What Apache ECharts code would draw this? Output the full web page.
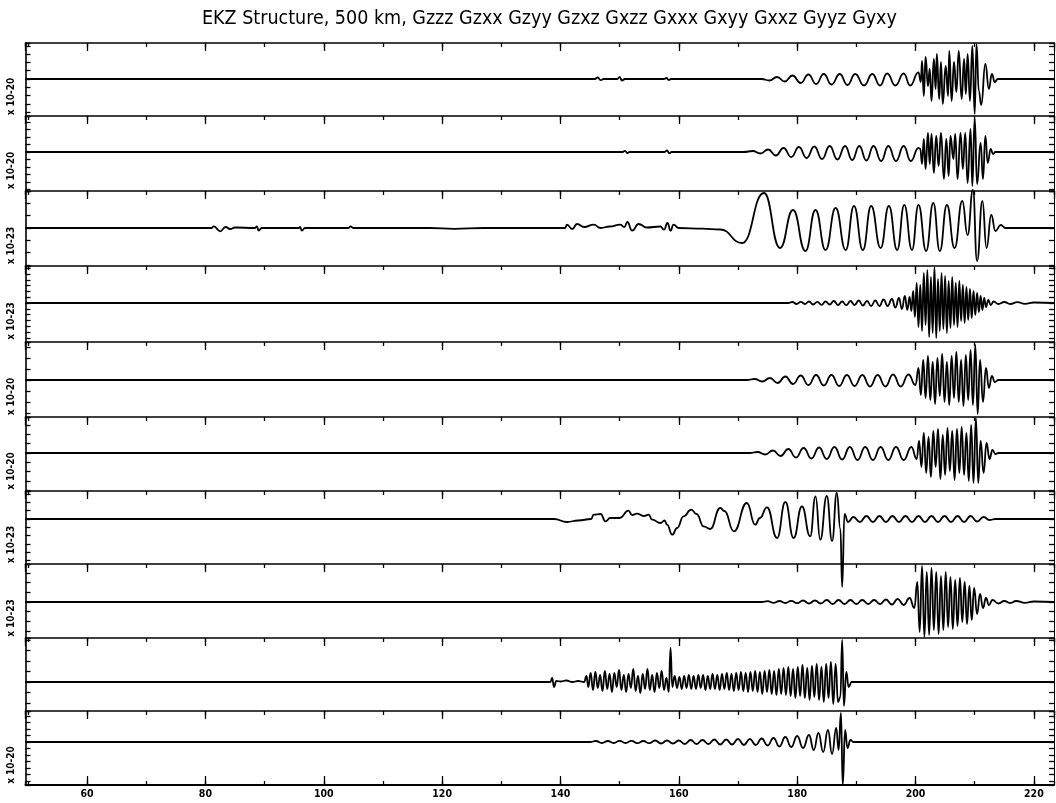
<!DOCTYPE html>
<html><head><meta charset="utf-8">
<script src="https://cdn.jsdelivr.net/npm/echarts@6/dist/echarts.min.js"></script>
<style>html,body{margin:0;padding:0;background:#fff}#c{width:1056px;height:803px}</style>
</head><body><div id="c"></div>
<script>
const chartTitle = 'EKZ Structure, 500 km, Gzzz Gzxx Gzyy Gzxz Gxzz Gxxx Gxyy Gxxz Gyyz Gyxy';
const components = ['Gzzz','Gzxx','Gzyy','Gzxz','Gxzz','Gxxx','Gxyy','Gxxz','Gyyz','Gyxy'];
const unitLabels = ['x 10-20','x 10-20','x 10-23','x 10-23','x 10-20','x 10-20','x 10-23','x 10-23','','x 10-20'];
const xRange = [49.6, 223.4];
const majorStep = 20, minorStep = 10;

// traces: [time, amplitude]
const traceGzzz = [[49.6,0],[145.8,0],[146.3,1.5],[146.8,-1.2],[147.3,0],[149.6,0],[150.0,1.8],[150.4,-1.5],[150.9,0],[157.5,0],[157.9,1],[158.3,-1],[158.7,0],[174.0,0],[175.3,-1.5],[176.6,2],[177.9,-2.5],[179.2,3.5],[180.6,-4],[181.9,4.5],[183.2,-5],[184.5,5],[185.8,-5.5],[187.2,5],[188.5,-6],[189.8,5],[191.3,-6.5],[192.7,5],[194.0,-6.5],[195.2,5.5],[196.6,-6.5],[198.0,5.5],[199.1,-6.5],[200.5,6.7],[200.9,-3],[201.1,18],[201.4,-17],[201.7,22],[202.1,-7],[202.4,10],[202.7,-22],[203.1,20],[203.4,-10],[203.6,25],[204.0,-20],[204.3,17],[204.6,-25],[205.1,13],[205.5,-17],[205.7,28],[206.1,-22],[206.5,17],[206.9,-13],[207.3,28],[207.8,-20],[208.2,20],[208.5,-15],[208.8,25],[209.2,-22],[209.6,33],[210.0,-35],[210.3,35],[210.7,-12],[211.1,-26],[211.8,15],[212.4,-10],[212.9,5],[213.4,-3],[213.9,0],[223.4,0]];
const traceGzxx = [[49.6,0],[150.5,0],[150.9,1.2],[151.3,-1],[151.7,0],[157.6,0],[158.0,1.5],[158.4,-1.2],[158.8,0],[171.0,0],[172.5,1],[173.8,-1.5],[175.1,2.5],[176.4,-3.5],[177.7,4],[179.0,-5],[180.3,5],[181.6,-6],[182.9,5.5],[184.2,-7],[185.5,6],[186.8,-7.5],[188.1,6],[189.3,-8],[190.5,6],[191.7,-8.5],[192.9,6],[194.2,-9],[195.4,6],[196.7,-9],[198.0,6],[199.2,-9],[200.5,4],[200.8,3],[201.1,-12],[201.4,13],[201.7,-17],[202.1,19],[202.4,-12],[202.7,18],[203.1,-21],[203.5,16],[203.9,-14],[204.3,19],[204.8,-27],[205.2,13],[205.6,-24],[205.9,16],[206.4,-7],[206.7,18],[207.1,-27],[207.6,19],[208.0,-17],[208.4,19],[208.8,-31],[209.3,23],[209.6,-34],[210.0,34],[210.4,-32],[211.0,9],[211.4,-27],[211.8,16],[212.2,-11],[212.7,3],[213.1,-2],[213.5,0],[223.4,0]];
const traceGzyy = [[49.6,0],[81.0,0],[81.4,1.7],[82.5,-3.3],[83.4,1],[84.2,-1],[85,0.5],[88.4,0],[88.7,1.7],[89.0,-2.7],[89.5,0],[95.8,0],[96.0,1],[96.3,-2.7],[96.8,0],[104.2,0],[104.5,1.7],[105,0],[118,0],[122,-0.8],[127,0],[140.8,0],[141.1,3.3],[142.0,-1],[142.8,4],[144,1],[145.6,3.3],[146.8,0],[148.3,1.5],[150.1,3.3],[150.8,1],[151.3,6],[152.1,-2.7],[153.2,4],[154.6,0.5],[156.9,1.5],[157.5,-1.7],[158.1,5],[158.6,-2.7],[159.1,3.3],[160,0],[164,-0.7],[167.0,-1.5],[170.7,-15],[174.4,35],[177.1,-20],[179.3,18],[181.4,-23],[183.1,18],[184.8,-22],[186.5,20],[188.2,-22],[189.6,22],[191.1,-22],[192.5,22],[194.1,-20],[195.5,22],[196.9,-22],[198.1,23],[199.4,-22],[200.5,23],[201.8,-23],[203.0,25],[204.1,-23],[205.3,23],[206.6,-20],[207.9,27],[208.8,-7],[209.7,38],[210.4,-33],[211.3,27],[212.0,-20],[212.8,13],[213.5,-3],[214.4,3],[215.2,0],[223.4,0]];
const traceGzxz = [[49.6,0],[178.5,0],[179.2,1],[179.9,-1],[180.6,1.2],[181.3,-1],[182.0,1.5],[182.7,-1.5],[183.4,1.2],[184.1,-1.8],[184.8,1.5],[185.5,-1.5],[186.2,2],[186.9,-2],[187.6,1.5],[188.3,-2.2],[189.0,2],[189.7,-2],[190.4,2.5],[191.1,-2.5],[191.8,2],[192.5,-3],[193.2,2.5],[193.9,-3],[194.6,3.5],[195.3,-3],[196.0,4],[196.6,-4.5],[197.2,5],[197.7,-6],[198.2,7],[198.6,-7],[199.0,6],[199.3,-8],[199.6,12],[199.9,-14],[200.2,20],[200.5,-24],[200.8,18],[201.1,-28],[201.4,30],[201.7,-22],[202.0,33],[202.3,-34],[202.6,26],[202.9,-30],[203.2,36],[203.5,-35],[203.8,24],[204.1,-28],[204.4,30],[204.7,-26],[205.0,27],[205.3,-30],[205.6,22],[205.9,-25],[206.2,26],[206.5,-22],[206.8,20],[207.1,-24],[207.4,22],[207.7,-18],[208.0,18],[208.3,-20],[208.6,16],[208.9,-17],[209.2,14],[209.5,-15],[209.8,12],[210.1,-12],[210.4,10],[210.7,-9],[211.0,7],[211.3,-7],[211.6,5],[211.9,-4],[212.3,3],[212.7,-2],[213.2,1.5],[214.0,-1],[215.0,1],[216.0,-1],[217.2,0.8],[218.5,-0.8],[220,0.5],[223.4,0]];
const traceGxzz = [[49.6,0],[171.5,0],[172.8,1],[174.1,-1.5],[175.4,2],[176.7,-3],[178.0,3.5],[179.3,-4],[180.6,4.5],[181.9,-5],[183.2,5],[184.5,-5.5],[185.8,5],[187.1,-6],[188.4,5],[189.7,-6],[191.0,5],[192.3,-6.5],[193.6,5],[194.9,-6.5],[196.2,5.5],[197.5,-6.5],[198.8,5.5],[200.0,-5],[200.5,12],[200.9,-15],[201.3,20],[201.7,-18],[202.1,24],[202.5,-20],[202.9,18],[203.3,-24],[203.7,22],[204.1,-16],[204.5,26],[204.9,-22],[205.3,18],[205.7,-25],[206.1,24],[206.5,-18],[206.9,28],[207.3,-22],[207.7,20],[208.1,-26],[208.5,25],[208.9,-20],[209.3,30],[209.7,-25],[210.1,35],[210.5,-34],[210.9,20],[211.4,-22],[211.9,12],[212.4,-8],[212.9,4],[213.4,-2],[214,0],[223.4,0]];
const traceGxxx = [[49.6,0],[172.0,0],[173.3,1],[174.6,-1.5],[175.9,2.5],[177.2,-3],[178.5,4],[179.8,-4.5],[181.1,5],[182.4,-5.5],[183.7,5.5],[185.0,-6],[186.3,6],[187.6,-6.5],[188.9,6],[190.2,-7],[191.5,6],[192.8,-7],[194.1,6],[195.4,-7],[196.7,6],[198.0,-7],[199.3,6],[200.2,-6],[200.6,12],[201.0,-14],[201.4,20],[201.8,-20],[202.2,16],[202.6,-24],[203.0,22],[203.4,-14],[203.8,24],[204.2,-26],[204.6,18],[205.0,-22],[205.4,25],[205.8,-18],[206.2,22],[206.6,-27],[207.0,24],[207.4,-20],[207.8,26],[208.2,-22],[208.6,20],[209.0,-28],[209.4,28],[209.8,-30],[210.2,35],[210.6,-30],[211.0,12],[211.5,-20],[212.0,10],[212.5,-6],[213.0,3],[213.5,-1],[214,0],[223.4,0]];
const traceGxyy = [[49.6,0],[138.9,0],[141.1,-3],[143,-1.5],[145.2,0],[145.6,4.3],[146.8,5],[147.6,-2.3],[148.4,1],[150.0,1],[151.5,8.3],[152.1,4],[152.9,5.3],[154.1,3],[154.9,4.3],[155.5,-0.7],[156.9,-4],[157.6,-1.5],[158.0,-5.7],[158.9,-15.7],[159.7,-9],[160.8,2.7],[162.1,9.3],[163.0,5],[164.2,-7.3],[165.3,-10],[167.0,11],[167.7,8],[169.3,-12.3],[171.5,16],[172.9,-5.7],[173.7,1],[174.9,11.7],[176.6,-19],[178.0,17],[179.4,-19],[180.8,12.7],[182.2,-17.3],[183.1,22.7],[183.9,-20.7],[185.0,23],[185.9,-22],[186.7,26],[187.3,-10],[187.6,-68],[188.0,5],[188.6,-3],[189.5,2],[190.6,-3],[191.7,3],[192.8,-3],[193.9,3],[195.0,-3],[196.1,3],[197.2,-3],[198.3,3],[199.4,-3],[200.5,3],[201.6,-3],[202.7,3],[203.8,-3],[204.9,3],[206.0,-3],[207.1,3],[208.2,-3],[209.3,3],[210.4,-2.5],[211.5,2],[212.5,-1],[213.5,0],[223.4,0]];
const traceGxxz = [[49.6,0],[174,0],[175,0.8],[176,-0.8],[177,1],[178,-1],[179,1.2],[180,-1.2],[181,1.5],[182,-1.5],[183,1.5],[184,-1.5],[185,2],[186,-2],[187,2],[188,-2],[189,2],[190,-2],[191,2],[192,-2],[193,2],[194,-2],[195,2.5],[196,-2.5],[197,3],[198,-3],[199,4],[199.8,-6],[200.3,20],[200.7,-30],[201.1,36],[201.5,-35],[201.9,30],[202.3,-33],[202.7,34],[203.1,-28],[203.5,30],[203.9,-32],[204.3,26],[204.7,-28],[205.1,30],[205.5,-25],[205.9,25],[206.3,-27],[206.7,22],[207.1,-24],[207.5,24],[207.9,-20],[208.3,20],[208.7,-22],[209.1,16],[209.5,-18],[209.9,14],[210.4,-12],[210.9,8],[211.4,-6],[211.9,4],[212.4,-3],[213,2],[214,-1.5],[215,1],[216,-1],[217,1],[218.5,-0.8],[220,0.5],[223.4,0]];
const traceGyyz = [[49.6,0],[138.3,0],[138.6,4],[138.9,-5],[139.3,1],[140,0.5],[141,1.5],[142,0],[143,1],[144,0],[144.4,6],[144.7,-5],[145.1,9],[145.5,-8],[145.9,10],[146.3,-6],[146.7,7],[147.1,-9],[147.5,11],[147.9,-7],[148.3,8],[148.7,-10],[149.1,9],[149.5,-5],[149.9,12],[150.3,-8],[150.7,7],[151.1,-10],[151.5,8],[151.9,-6],[152.3,13],[152.7,-9],[153.1,6],[153.5,-11],[153.9,8],[154.3,-7],[154.7,13],[155.1,-8],[155.5,7],[155.9,-10],[156.3,9],[156.7,-6],[157.1,11],[157.5,-8],[157.9,4],[158.3,-10],[158.6,34],[158.9,-5],[159.3,6],[159.7,-6],[160.1,5],[160.5,-7],[160.9,6],[161.3,-6],[161.7,7],[162.1,-7],[162.5,6],[162.9,-7],[163.3,7],[163.7,-6],[164.1,7],[164.5,-8],[164.9,6],[165.3,-7],[165.7,8],[166.1,-7],[166.5,7],[166.9,-8],[167.3,8],[167.7,-7],[168.1,9],[168.5,-8],[168.9,8],[169.3,-9],[169.7,9],[170.1,-8],[170.5,10],[170.9,-9],[171.3,9],[171.7,-10],[172.1,10],[172.5,-9],[172.9,11],[173.3,-10],[173.7,10],[174.1,-12],[174.5,11],[174.9,-10],[175.3,12],[175.7,-12],[176.1,11],[176.5,-13],[176.9,13],[177.3,-12],[177.7,14],[178.1,-13],[178.5,15],[178.9,-14],[179.3,13],[179.7,-16],[180.1,15],[180.5,-14],[180.9,17],[181.3,-16],[181.7,14],[182.1,-18],[182.5,16],[182.9,-15],[183.3,18],[183.7,-18],[184.1,15],[184.5,-20],[184.9,18],[185.3,-16],[185.7,20],[186.1,-22],[186.5,18],[186.9,-20],[187.3,-15],[187.6,42],[187.9,-24],[188.3,10],[188.7,-5],[189.2,0],[223.4,0]];
const traceGyxy = [[49.6,0],[145,0],[146,1],[147,-1],[148,1],[149,-1],[150,1.2],[151,-1],[152,1.2],[153,-1.2],[154,1],[155,-1.2],[156,1.5],[157,-1.5],[158,1.5],[159,-1.5],[160,1.5],[161,-2],[162,2],[163,-2],[164,2],[165,-2],[166,2.5],[167,-2.5],[168,2.5],[169,-2.5],[170,3],[171,-3],[172,3],[173,-3],[174,3.5],[175,-3.5],[176,4],[177,-4.5],[178,5],[179,-5],[180,6],[181,-6],[182,7],[182.8,-8],[183.6,9],[184.4,-10],[185.2,12],[185.9,-12],[186.6,14],[187.0,-8],[187.4,29],[187.7,-43],[188.1,12],[188.5,-6],[189,2],[189.5,0],[223.4,0]];
const traces = [traceGzzz, traceGzxx, traceGzyy, traceGzxz, traceGxzz, traceGxxx, traceGxyy, traceGxxz, traceGyyz, traceGyxy];

// layout (pixels)
const panelEdges = [43,116,191,266,342,417,491,564,638,711,785];
const baselines = [79,152,228,303,380,453,519,602,682,742];
const yTickPx = [8.3,7.5,12.3,5.8,11,9.3,8.3,9.7,10.5,6.5];
const FONT = "'Liberation Sans Narrow','DejaVu Sans Condensed','Liberation Sans',sans-serif";

const grids = [], xAxes = [], yAxes = [], series = [];
const n = traces.length;
for (let i = 0; i < n; i++) {
  const top = panelEdges[i], h = panelEdges[i+1] - panelEdges[i];
  grids.push({left: 25.5, right: 2, top: top, height: h, containLabel: false, outerBoundsMode: 'none'});
  const above = baselines[i] - top, below = panelEdges[i+1] - baselines[i];
  const xBase = {gridIndex: i, type: 'value', min: xRange[0], max: xRange[1],
    axisLabel: {show: false}, splitLine: {show: false}};
  xAxes.push(Object.assign({}, xBase, {position: 'top', minInterval: majorStep, maxInterval: majorStep,
    axisLine: {show: true, onZero: false, lineStyle: {color: '#000', width: 1.6}},
    axisTick: {show: true, inside: true, length: 8, lineStyle: {color: '#000', width: 1.3}}}));
  xAxes.push(Object.assign({}, xBase, {position: 'top', minInterval: minorStep, maxInterval: minorStep,
    axisLine: {show: false, onZero: false},
    axisTick: {show: true, inside: true, length: 4, lineStyle: {color: '#000', width: 1.3}}}));
  const yBase = {gridIndex: i, type: 'value', min: -below, max: above,
    minInterval: yTickPx[i], maxInterval: yTickPx[i], splitLine: {show: false}, axisLabel: {show: false},
    axisLine: {show: true, onZero: false, lineStyle: {color: '#000', width: 1.6}},
    axisTick: {show: true, inside: true, length: 5, lineStyle: {color: '#000', width: 1.3}}};
  const yLeft = Object.assign({}, yBase, {position: 'left'});
  if (unitLabels[i]) Object.assign(yLeft, {name: unitLabels[i], nameLocation: 'middle',
    nameRotate: 90, nameGap: 9,
    nameTextStyle: {fontFamily: FONT, fontSize: 10, fontWeight: 'bold', color: '#000', padding: [0, 34, 0, 0]}});
  yAxes.push(yLeft);
  yAxes.push(Object.assign({}, yBase, {position: 'right', axisLine: {show: true, onZero: false, lineStyle: {color: '#000', width: 1}}}));
  series.push({type: 'line', name: components[i], xAxisIndex: 2*i, yAxisIndex: 2*i, data: traces[i],
    showSymbol: false, smooth: 0.5, smoothMonotone: 'x', clip: false, silent: true,
    lineStyle: {color: '#000', width: 1.8}});
}
// bottom axes of the last panel
const last = n - 1;
xAxes.push({gridIndex: last, type: 'value', position: 'bottom', min: xRange[0], max: xRange[1],
  minInterval: majorStep, maxInterval: majorStep, splitLine: {show: false},
  axisLine: {show: true, onZero: false, lineStyle: {color: '#000', width: 2}},
  axisTick: {show: true, inside: true, length: 9, lineStyle: {color: '#000', width: 1.3}},
  axisLabel: {show: true, showMinLabel: false, showMaxLabel: false, margin: 4,
    fontFamily: FONT, fontSize: 10.5, fontWeight: 'bold', color: '#000'}});
xAxes.push({gridIndex: last, type: 'value', position: 'bottom', min: xRange[0], max: xRange[1],
  minInterval: minorStep, maxInterval: minorStep, splitLine: {show: false},
  axisLine: {show: false, onZero: false}, axisLabel: {show: false},
  axisTick: {show: true, inside: true, length: 4, lineStyle: {color: '#000', width: 1.3}}});

const chart = echarts.init(document.getElementById('c'), null, {renderer: 'canvas'});
chart.setOption({
  animation: false,
  backgroundColor: '#fff',
  title: {text: chartTitle, left: 197, top: 4,
    textStyle: {fontFamily: FONT, fontSize: 19.5, fontWeight: 'normal', color: '#000'}},
  grid: grids, xAxis: xAxes, yAxis: yAxes, series: series
});
</script></body></html>
